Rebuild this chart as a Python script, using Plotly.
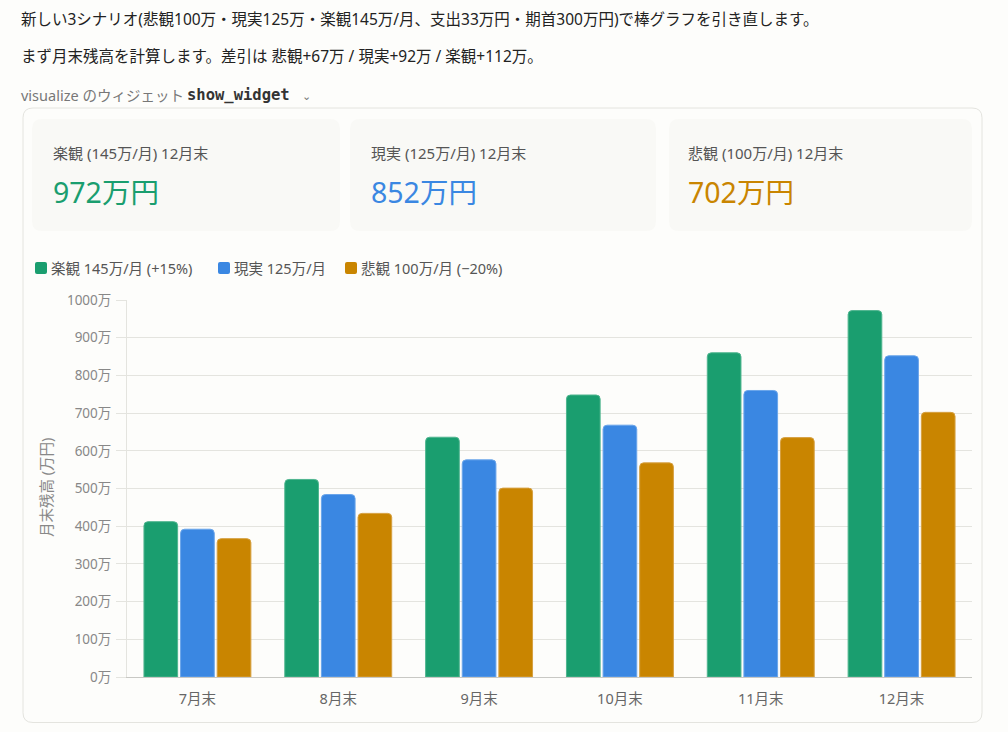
import plotly.graph_objects as go

W, H = 1008, 732

months = ["7月末", "8月末", "9月末", "10月末", "11月末", "12月末"]
optimistic = [412, 524, 636, 748, 860, 972]
realistic = [392, 484, 576, 668, 760, 852]
pessimistic = [367, 434, 501, 568, 635, 702]
series_names = ["楽観 145万/月 (+15%)", "現実 125万/月", "悲観 100万/月 (−20%)"]
series_colors = ["#1a9e6f", "#3a87e2", "#c98500"]
edge_colors = ["#4fb58f", "#6aa5ea", "#d6a040"]
y_tick_vals = [0, 100, 200, 300, 400, 500, 600, 700, 800, 900, 1000]
y_tick_text = ["0万", "100万", "200万", "300万", "400万", "500万", "600万",
               "700万", "800万", "900万", "1000万"]
card_titles = ["楽観 (145万/月) 12月末", "現実 (125万/月) 12月末", "悲観 (100万/月) 12月末"]
card_values = ["972万円", "852万円", "702万円"]

FONT = "Noto Sans, Noto Sans CJK JP, sans-serif"

# vertical compensation for the capture (measured)
YS, YO = 0.9754, 9.0

def px(x):
    return x / W

def py(y):
    return 1 - ((y - YO) / YS) / H

def rrect(x0, y0, x1, y1, r):
    rx, ry = r / W, r / H
    X0, X1 = px(x0), px(x1)
    Y0, Y1 = py(y0), py(y1)
    return (f"M {X0+rx},{Y0} L {X1-rx},{Y0} Q {X1},{Y0} {X1},{Y0-ry} "
            f"L {X1},{Y1+ry} Q {X1},{Y1} {X1-rx},{Y1} L {X0+rx},{Y1} "
            f"Q {X0},{Y1} {X0},{Y1+ry} L {X0},{Y0-ry} Q {X0},{Y0} {X0+rx},{Y0} Z")

fig = go.Figure()
for name, vals, col, ec in zip(series_names, [optimistic, realistic, pessimistic], series_colors, edge_colors):
    fig.add_trace(go.Bar(x=months, y=vals, name=name, marker=dict(color=col, cornerradius=4,
                         line=dict(width=1, color=ec)), showlegend=False))

shapes = []
shapes.append(dict(type="path", xref="paper", yref="paper", path=rrect(23, 108, 982, 722.5, 10),
                   line=dict(color="#e4e4df", width=1), fillcolor="rgba(0,0,0,0)", layer="below"))
card_x = [(32, 340), (350, 656), (669, 972)]
for (a, b) in card_x:
    shapes.append(dict(type="path", xref="paper", yref="paper", path=rrect(a, 119, b, 231, 10),
                       line=dict(width=0), fillcolor="#f9f9f6", layer="below"))

annotations = []
def txt(x, y, s, size, color, family=FONT, anchor="left"):
    annotations.append(dict(x=px(x), y=py(y), xref="paper", yref="paper", text=s, showarrow=False,
                            xanchor=anchor, yanchor="middle", xshift=-2,
                            font=dict(size=size, color=color, family=family)))

txt(21, 19, "新しい3シナリオ(悲観100万・現実125万・楽観145万/月、支出33万円・期首300万円)で棒グラフを引き直します。", 15.5, "#222")
txt(21, 56, "まず月末残高を計算します。差引は 悲観+67万 / 現実+92万 / 楽観+112万。", 15.5, "#222")
txt(21, 95, "visualize のウィジェット", 14.5, "#777")
txt(187, 95, "<b>show_widget</b>", 15.5, "#333", family="DejaVu Sans Mono, monospace")
txt(302, 95, "⌄", 11, "#777")

card_text_x = [53, 371, 688]
for x, t, v, c in zip(card_text_x, card_titles, card_values, series_colors):
    txt(x, 153, t, 15, "#555")
    txt(x, 192, v, 28.5, c)

leg_x = [35, 218, 345]
for x, n, c in zip(leg_x, series_names, series_colors):
    shapes.append(dict(type="path", xref="paper", yref="paper", path=rrect(x, 262, x + 12, 274, 2),
                       line=dict(width=0), fillcolor=c))
    txt(x + 16, 268, n, 14.5, "#555")

annotations.append(dict(x=px(46), y=py(488), xref="paper", yref="paper", text="月末残高 (万円)",
                        showarrow=False, textangle=-90, xanchor="center", yanchor="middle",
                        font=dict(size=14.5, color="#888", family=FONT)))

fig.update_layout(
    width=W, height=H, margin=dict(l=0, r=0, t=0, b=0), autosize=False,
    paper_bgcolor="#fdfdfb", plot_bgcolor="#fdfdfb",
    barmode="group", bargap=0.22, bargroupgap=0.08,
    shapes=shapes, annotations=annotations,
    font=dict(family=FONT),
    xaxis=dict(domain=[px(127), px(972)], showgrid=False, showline=True, linecolor="#c8c8c4",
               linewidth=1, ticks="", tickfont=dict(size=14.5, color="#666"), ticklabelstandoff=9,
               fixedrange=True),
    yaxis=dict(domain=[py(677), py(300)], range=[0, 1000], tickvals=y_tick_vals, ticktext=y_tick_text,
               showgrid=True, gridcolor="#e4e4df", gridwidth=1, zeroline=False,
               showline=True, linecolor="#e4e4df", ticks="outside", ticklen=10, tickcolor="#e4e4df",
               tickfont=dict(size=13.5, color="#888"), ticklabelstandoff=2, fixedrange=True),
    hovermode=False,
)

post = ("document.body.style.margin='0';document.body.style.overflow='hidden';"
        "document.body.style.background='#fdfdfb';"
        "var gd=document.getElementById('{plot_id}');gd.style.position='fixed';"
        "gd.style.top='0px';gd.style.left='0px';")
fig.write_html("out.html", config={"displayModeBar": False}, post_script=post)
